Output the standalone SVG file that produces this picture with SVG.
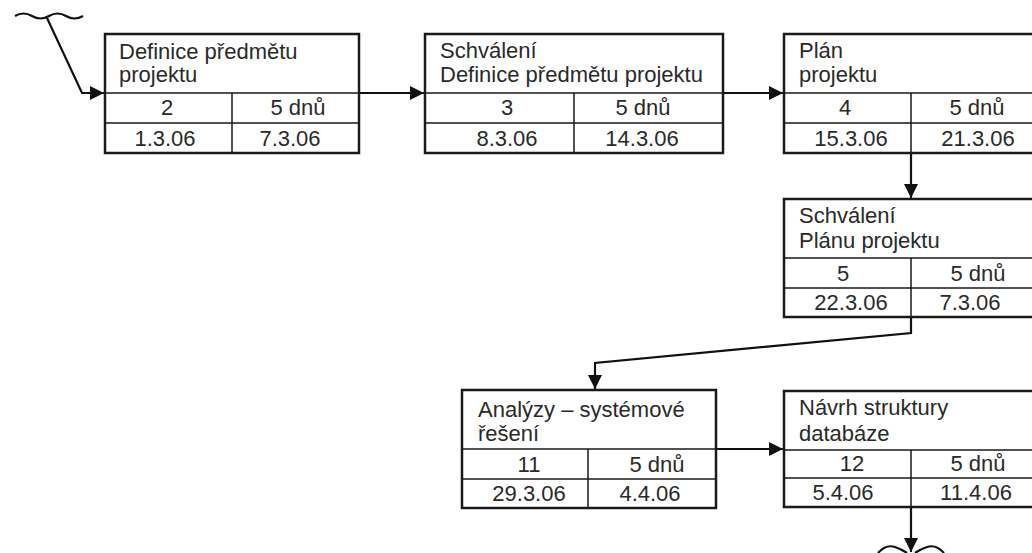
<svg xmlns="http://www.w3.org/2000/svg" width="1032" height="553" viewBox="0 0 1032 553">
<style>
.box{fill:#fff;stroke:#1a1a1a;stroke-width:2.5}
.ln{stroke:#1a1a1a;stroke-width:1.5;fill:none}
text{font-family:"Liberation Sans",Arial,sans-serif;font-size:22px;fill:#2a2a2a}
.c{text-anchor:middle}
.con{stroke:#111;stroke-width:2.2;fill:none}
</style>
<defs>
<marker id="ah" viewBox="0 0 10 10" refX="10" refY="5" markerWidth="14" markerHeight="14" markerUnits="userSpaceOnUse" orient="auto">
<path d="M0,0 L10,5 L0,10 z" fill="#111"/>
</marker>
</defs>
<g id="connectors">
<path class="con" d="M15,16 q8.5,-5 17,0 t17,0 t17,0 t17,0" stroke-width="1.5"/>
<path class="con" d="M47,18 L82,93 L104,93" marker-end="url(#ah)"/>
<path class="con" d="M359,93 L424,93" marker-end="url(#ah)"/>
<path class="con" d="M723,93 L783,93" marker-end="url(#ah)"/>
<path class="con" d="M911,153 L911,198" marker-end="url(#ah)"/>
<path class="con" d="M911,317 L911,333 L595,363 L595,389" marker-end="url(#ah)"/>
<path class="con" d="M716,449 L783,449" marker-end="url(#ah)"/>
<path class="con" d="M911,507 L911,552" marker-end="url(#ah)"/>
<path class="con" stroke-width="1.5" d="M878,553 q8,-9 17,-6 q6,2 12,6 M915,553 q6,-4 12,-6 q9,-3 17,6"/>
</g>
<g id="node1">
<rect class="box" x="105" y="34" width="254" height="119"/>
<path class="ln" d="M105,93 H359 M105,123 H359 M232,93 V153"/>
<text x="119" y="59">Definice předmětu</text>
<text x="119" y="82">projektu</text>
<text class="c" x="167" y="115">2</text>
<text class="c" x="298" y="115">5 dnů</text>
<text class="c" x="165" y="146">1.3.06</text>
<text class="c" x="290" y="146">7.3.06</text>
</g>
<g id="node2">
<rect class="box" x="425" y="34" width="298" height="119"/>
<path class="ln" d="M425,93 H723 M425,123 H723 M574,93 V153"/>
<text x="440" y="58">Schválení</text>
<text x="440" y="82">Definice předmětu projektu</text>
<text class="c" x="507" y="115">3</text>
<text class="c" x="643" y="115">5 dnů</text>
<text class="c" x="507" y="146">8.3.06</text>
<text class="c" x="642" y="146">14.3.06</text>
</g>
<g id="node3">
<rect class="box" x="784" y="34" width="254" height="119"/>
<path class="ln" d="M784,93 H1038 M784,123 H1038 M911,93 V153"/>
<text x="799" y="58">Plán</text>
<text x="799" y="82">projektu</text>
<text class="c" x="845" y="115">4</text>
<text class="c" x="977" y="115">5 dnů</text>
<text class="c" x="851" y="146">15.3.06</text>
<text class="c" x="978" y="146">21.3.06</text>
</g>
<g id="node4">
<rect class="box" x="784" y="199" width="254" height="118"/>
<path class="ln" d="M784,258 H1038 M784,288 H1038 M911,258 V317"/>
<text x="799" y="223">Schválení</text>
<text x="799" y="248">Plánu projektu</text>
<text class="c" x="843" y="281">5</text>
<text class="c" x="978" y="281">5 dnů</text>
<text class="c" x="851" y="310">22.3.06</text>
<text class="c" x="970" y="310">7.3.06</text>
</g>
<g id="node5">
<rect class="box" x="462" y="390" width="254" height="118"/>
<path class="ln" d="M462,449 H716 M462,479 H716 M588,449 V508"/>
<text x="478" y="417">Analýzy – systémové</text>
<text x="478" y="441">řešení</text>
<text class="c" x="529" y="472">11</text>
<text class="c" x="657" y="472">5 dnů</text>
<text class="c" x="529" y="501">29.3.06</text>
<text class="c" x="650" y="501">4.4.06</text>
</g>
<g id="node6">
<rect class="box" x="784" y="391" width="254" height="116"/>
<path class="ln" d="M784,450 H1038 M784,478 H1038 M911,450 V507"/>
<text x="799" y="415">Návrh struktury</text>
<text x="799" y="441">databáze</text>
<text class="c" x="852" y="471">12</text>
<text class="c" x="978" y="471">5 dnů</text>
<text class="c" x="843" y="500">5.4.06</text>
<text class="c" x="976" y="500">11.4.06</text>
</g>
</svg>
